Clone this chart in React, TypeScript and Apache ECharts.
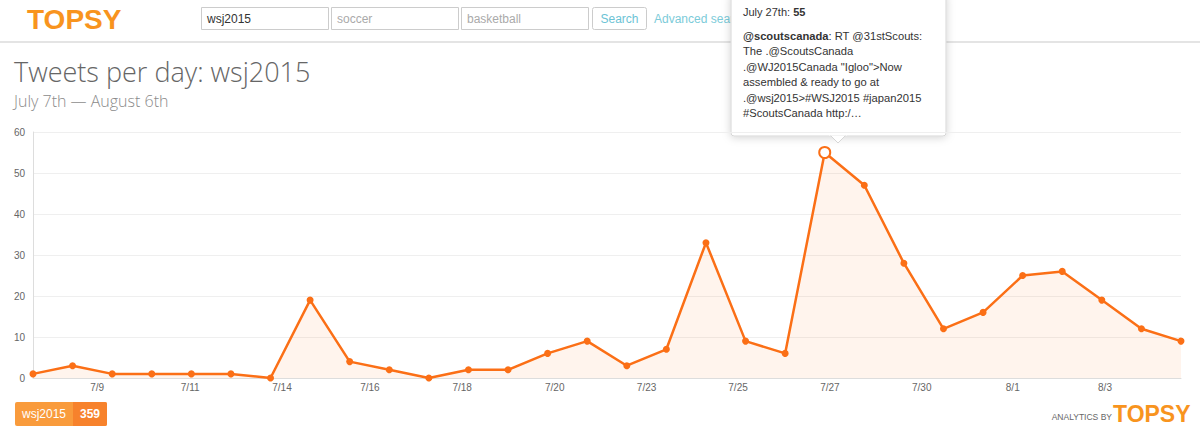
import React, { useEffect, useRef } from "react";
import * as echarts from "echarts";

const dates = [
  "7/7", "7/8", "7/9", "7/10", "7/11", "7/12", "7/13", "7/14", "7/15", "7/16",
  "7/17", "7/18", "7/19", "7/20", "7/21", "7/22", "7/23", "7/24", "7/25", "7/26",
  "7/27", "7/28", "7/29", "7/30", "7/31", "8/1", "8/2", "8/3", "8/4", "8/5",
];
const tweets = [1, 3, 1, 1, 1, 1, 0, 19, 4, 2, 0, 2, 2, 6, 9, 3, 7, 33, 9, 6, 55, 47, 28, 12, 16, 25, 26, 19, 12, 9];
const xTickLabels = ["7/9", "7/11", "7/14", "7/16", "7/18", "7/20", "7/23", "7/25", "7/27", "7/30", "8/1", "8/3"];
const xTickAt = [1.62, 3.97, 6.29, 8.51, 10.84, 13.18, 15.5, 17.81, 20.13, 22.45, 24.75, 27.08];
const hoverIndex = 20;
const total = tweets.reduce((a, b) => a + b, 0);

const ORANGE = "#fb6f16";
const LOGO = "#f8941e";

export default function App() {
  const ref = useRef<HTMLDivElement>(null);
  useEffect(() => {
    if (!ref.current) return;
    const chart = echarts.init(ref.current, null, { renderer: "svg" });
    const sans = "'Liberation Sans', Arial, sans-serif";
    const data = tweets.map((v, i) =>
      i === hoverIndex
        ? { value: [i, v], symbolSize: 11, itemStyle: { color: "#fff", borderColor: ORANGE, borderWidth: 2 } }
        : { value: [i, v] }
    );
    const box = (x: number, w: number, label: string, color: string) => [
      { type: "rect", shape: { x: x + 0.5, y: 7.5, width: w, height: 22 }, style: { fill: "#fff", stroke: "#cccccc", lineWidth: 1 } },
      { type: "text", x: x + 6, y: 19, style: { text: label, fill: color, font: `12px ${sans}`, verticalAlign: "middle" } },
    ];
    chart.setOption({
      animation: false,
      backgroundColor: "#fff",
      grid: { left: 33, right: 19, top: 132, bottom: 61 },
      xAxis: {
        type: "value",
        min: 0,
        max: tweets.length - 1,
        axisLine: { show: true, lineStyle: { color: "#dddddd", width: 1 } },
        axisTick: { show: false },
        splitLine: { show: false },
        axisLabel: {
          customValues: xTickAt,
          formatter: (v: number) => {
            const k = xTickAt.findIndex((p) => Math.abs(p - v) < 1e-6);
            return k >= 0 ? xTickLabels[k] : "";
          },
          color: "#666",
          fontSize: 10,
          fontFamily: sans,
          margin: 4,
        },
      },
      yAxis: {
        type: "value",
        min: 0,
        max: 60,
        interval: 10,
        axisLine: { show: true, lineStyle: { color: "#dddddd", width: 1 } },
        axisTick: { show: false },
        splitLine: { show: true, lineStyle: { color: "#efefef", width: 1 } },
        axisLabel: { color: "#666", fontSize: 10, fontFamily: sans, margin: 8 },
      },
      series: [
        {
          type: "line",
          name: "wsj2015",
          data,
          smooth: false,
          symbol: "circle",
          symbolSize: 7,
          showAllSymbol: true,
          lineStyle: { color: ORANGE, width: 2.5 },
          itemStyle: { color: ORANGE },
          areaStyle: { color: "rgba(251,111,22,0.11)" },
          z: 3,
        },
      ],
      graphic: [
        // header
        { type: "text", x: 27, y: 19, style: { text: "TOPSY", fill: LOGO, font: `bold 28px ${sans}`, verticalAlign: "middle" } },
        ...box(201, 127, "wsj2015", "#333"),
        ...box(331, 127, "soccer", "#aaa"),
        ...box(461, 127, "basketball", "#aaa"),
        { type: "rect", shape: { x: 592.5, y: 7.5, width: 54, height: 22, r: 2 }, style: { fill: "#fff", stroke: "#cccccc", lineWidth: 1 } },
        { type: "text", x: 619.5, y: 19, style: { text: "Search", fill: "#6cc3d5", font: `12px ${sans}`, align: "center", verticalAlign: "middle" } },
        { type: "text", x: 654, y: 19, style: { text: "Advanced search", fill: "#7ccbd9", font: `12px ${sans}`, verticalAlign: "middle" } },
        { type: "rect", shape: { x: 0, y: 41, width: 1200, height: 2 }, style: { fill: "#e4e4e4" } },
        // titles
        { type: "text", x: 14, y: 71.5, style: { text: "Tweets per day: wsj2015", fill: "#666", font: `300 27px 'Open Sans', sans-serif`, lineHeight: 27, verticalAlign: "middle" } },
        { type: "text", x: 14, y: 101, style: { text: "July 7th \u2014 August 6th", fill: "#8a8a8a", font: `300 16px 'Open Sans', sans-serif`, lineHeight: 17, verticalAlign: "middle" } },
        // legend
        { type: "rect", shape: { x: 15, y: 402, width: 92, height: 24, r: 2 }, style: { fill: "#f99b3c" } },
        { type: "rect", shape: { x: 73, y: 402, width: 34, height: 24, r: [0, 2, 2, 0] }, style: { fill: "#f7822c" } },
        { type: "text", x: 22, y: 414, style: { text: "wsj2015", fill: "#fff", font: `12px ${sans}`, verticalAlign: "middle" } },
        { type: "text", x: 90, y: 414, style: { text: String(total), fill: "#fff", font: `bold 12px ${sans}`, align: "center", verticalAlign: "middle" } },
        // footer logo
        { type: "text", x: 1112, y: 421, style: { text: "ANALYTICS BY", fill: "#666", font: `8.5px ${sans}`, align: "right", verticalAlign: "bottom" } },
        { type: "text", x: 1113, y: 425, style: { text: "TOPSY", fill: LOGO, font: `bold 23px ${sans}`, verticalAlign: "bottom" } },
        // tooltip
        {
          type: "group",
          z: 100,
          children: [
            {
              type: "rect",
              shape: { x: 731, y: -6, width: 215, height: 142, r: 3 },
              style: { fill: "#fff", stroke: "#d6d6d6", lineWidth: 1, shadowBlur: 8, shadowColor: "rgba(0,0,0,0.18)", shadowOffsetY: 1 },
            },
            {
              type: "polygon",
              shape: { points: [[830, 135], [846, 135], [838, 143]] },
              style: { fill: "#fff", stroke: "#d6d6d6", lineWidth: 1 },
            },
            { type: "rect", shape: { x: 829, y: 132, width: 18, height: 3.5 }, style: { fill: "#fff" } },
            {
              type: "text",
              x: 743,
              y: 12,
              style: {
                text: `July 27th: {b|${tweets[hoverIndex]}}`,
                fill: "#333",
                font: `11px ${sans}`,
                verticalAlign: "middle",
                rich: { b: { fontWeight: "bold", fontSize: 11, fontFamily: sans, fill: "#333" } },
              },
            },
            {
              type: "text",
              x: 743,
              y: 28,
              style: {
                text:
                  "{b|@scoutscanada}: RT @31stScouts:\nThe .@ScoutsCanada\n.@WJ2015Canada \"Igloo\">Now\nassembled & ready to go at\n.@wsj2015>#WSJ2015 #japan2015\n#ScoutsCanada http:/\u2026",
                fill: "#333",
                font: `11.2px ${sans}`,
                lineHeight: 15.5,
                verticalAlign: "top",
                rich: { b: { fontWeight: "bold", fontSize: 11.2, fontFamily: sans, fill: "#333", lineHeight: 15.5 } },
              },
            },
          ],
        },
      ],
    });
    return () => chart.dispose();
  }, []);
  return <div ref={ref} style={{ position: "fixed", left: 0, top: 0, width: 1200, height: 439 }} />;
}
